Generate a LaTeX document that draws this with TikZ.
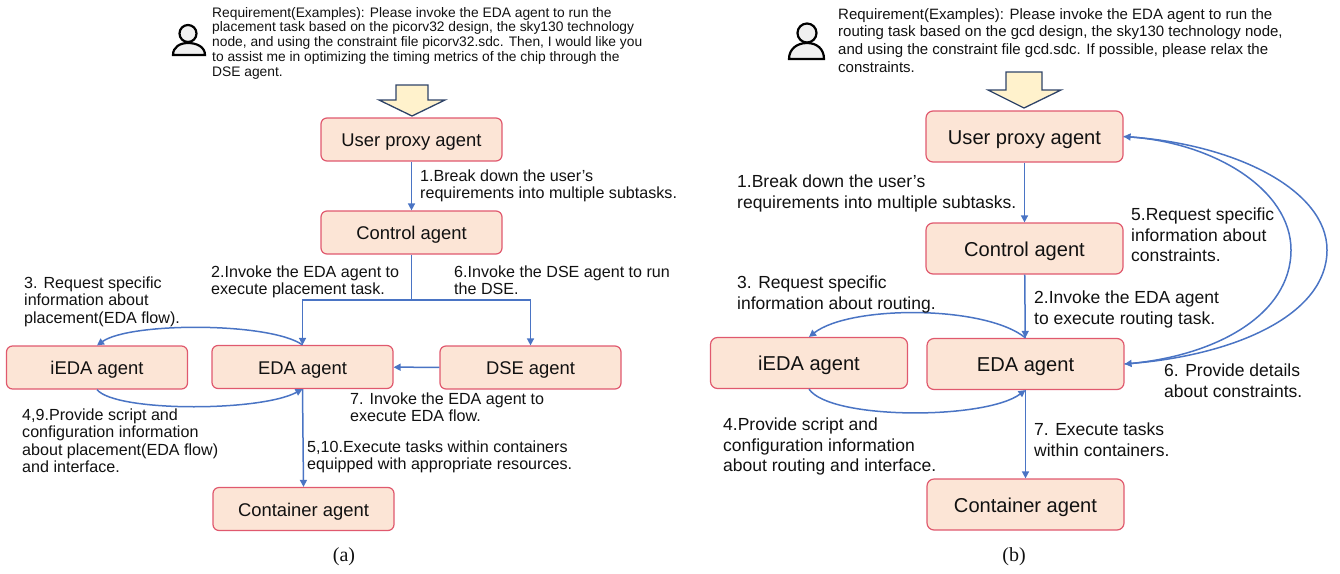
\documentclass[tikz,border=0pt]{standalone}
\usepackage{fontspec}
\setmainfont{Liberation Sans}
\newfontfamily\capfont{Liberation Serif}
\usetikzlibrary{arrows.meta}
\definecolor{boxfill}{HTML}{FCE5D6}
\definecolor{boxline}{HTML}{E0596E}
\definecolor{wire}{HTML}{4A74C4}
\definecolor{bigfill}{HTML}{FFF2CC}
\definecolor{bigline}{HTML}{2F4468}
\definecolor{txt}{HTML}{111111}
\tikzset{
 x=1pt,y=-1pt,
 agentL/.style={draw=boxline,fill=boxfill,line width=1.2pt,rounded corners=6pt,minimum width=181pt,minimum height=43pt,inner sep=0pt,font=\fontsize{18.4}{20}\selectfont,text=txt,text height=14pt,text depth=0pt},
 agentR/.style={agentL,rounded corners=7pt,minimum width=197pt,minimum height=51pt,font=\fontsize{20.1}{22}\selectfont,text height=15.2pt,text depth=0pt},
 wirestyle/.style={draw=wire,line width=1.5pt,-{Triangle[length=7pt,width=7pt]}},
 noteL/.style={anchor=north west,inner sep=0pt,align=left,text=txt,font=\fontsize{16.1}{17.1}\selectfont,yshift=-2pt},
 noteR/.style={noteL,font=\fontsize{17.5}{20.3}\selectfont,yshift=-1pt},
 reqL/.style={noteL,font=\fontsize{13.8}{14.7}\selectfont},
 reqR/.style={noteL,font=\fontsize{15}{17.7}\selectfont},
 bigarrow/.style={draw=bigline,fill=bigfill,line width=1.3pt,line join=miter},
 personbody/.style={draw=black,fill=black!6,line width=2.2pt},
}
\begin{document}
\begin{tikzpicture}
\useasboundingbox (0,0) rectangle (1340,573);
% ---------- (a)
\draw[personbody] (173,55) .. controls (173,47) and (180,43) .. (188,43) .. controls (197,43) and (205,47) .. (205,55) -- cycle;
\draw[personbody] (188,33.5) circle[radius=8.5];
\node[reqL] (reqa) at (212,5) {Requirement(Examples): Please invoke the EDA agent to run the\\placement task based on the picorv32 design, the sky130 technology\\node, and using the constraint file picorv32.sdc. Then, I would like you\\to assist me in optimizing the timing metrics of the chip through the\\DSE agent.};
\draw[bigarrow] (396,85) -- (428,85) -- (428,100) -- (445,100) -- (412,116) -- (379,100) -- (396,100) -- cycle;

\node[agentL] (ua) at (411.5,139.5) {User proxy agent};
\node[agentL] (ca) at (411.5,232.5) {Control agent};
\node[agentL] (ia) at (97,367.5) {iEDA agent};
\node[agentL] (ea) at (302.5,367) {EDA agent};
\node[agentL] (da) at (530.5,367.5) {DSE agent};
\node[agentL] (ka) at (303.5,509) {Container agent};
\coordinate (ja) at (411.5,300);

\draw[wirestyle] (ua) -- (ca);
\draw[wirestyle] (ca.south) -- (ja) -| (ea.north);
\draw[wirestyle] (ja) -| (da.north);
\draw[wirestyle] (da) -- (ea);
\draw[wirestyle] (ea.north) .. controls (270,322) and (130,322) .. (ia.north);
\draw[wirestyle] (ia.south) .. controls (115,412) and (260,412) .. (ea.south);
\draw[wirestyle] (ea.south) -- (ka.north);

\node[noteL] (n1a) at (420,168) {1.Break down the user's\\requirements into multiple subtasks.};
\node[noteL] (n2a) at (211,264) {2.Invoke the EDA agent to\\execute placement task.};
\node[noteL] (n6a) at (454,264) {6.Invoke the DSE agent to run\\the DSE.};
\node[noteL] (n3a) at (24,275) {3. Request specific\\information about\\placement(EDA flow).};
\node[noteL] (n7a) at (350,391) {7. Invoke the EDA agent to\\execute EDA flow.};
\node[noteL] (n4a) at (22,407) {4,9.Provide script and\\configuration information\\about placement(EDA flow)\\and interface.};
\node[noteL] (n5a) at (307,439) {5,10.Execute tasks within containers\\equipped with appropriate resources.};
\node[font=\capfont\fontsize{20}{22}\selectfont,text=txt,inner sep=0pt] (capa) at (344,557) {(a)};

% ---------- (b)
\draw[personbody] (789,59) .. controls (789,49) and (797,43) .. (807,43) .. controls (817,43) and (824,49) .. (824,59) -- cycle;
\draw[personbody] (807,33) circle[radius=9.5];
\node[reqR] (reqb) at (838,6) {Requirement(Examples): Please invoke the EDA agent to run the\\routing task based on the gcd design, the sky130 technology node,\\and using the constraint file gcd.sdc. If possible, please relax the\\constraints.};
\draw[bigarrow] (1006,72) -- (1042,72) -- (1042,90) -- (1061,90) -- (1024,108) -- (988,90) -- (1006,90) -- cycle;

\node[agentR] (ub) at (1024.5,136.5) {User proxy agent};
\node[agentR] (cb) at (1024.5,248.5) {Control agent};
\node[agentR] (ib) at (809,363) {iEDA agent};
\node[agentR] (eb) at (1025.5,364) {EDA agent};
\node[agentR] (kb) at (1025.5,504.5) {Container agent};
\coordinate (inner) at (1291,250);
\coordinate (outer) at (1327,250);

\draw[wirestyle] (ub) -- (cb);
\draw[wirestyle] (cb) -- (eb);
\draw[wirestyle] (eb.north) .. controls (985,305) and (850,305) .. (ib.north);
\draw[wirestyle] (ib.south) .. controls (830,420) and (985,420) .. (eb.south);
\draw[wirestyle] (eb.south) -- (kb.north);
\draw[wirestyle] (eb.east) .. controls (1215,357) and (1291,315) .. (inner) .. controls (1291,190) and (1215,143) .. (ub.east);
\draw[wirestyle] (ub.east) .. controls (1235,143) and (1327,190) .. (outer) .. controls (1327,315) and (1235,355) .. (eb.east);

\node[noteR] (n1b) at (737,172) {1.Break down the user's\\requirements into multiple subtasks.};
\node[noteR] (n5b) at (1131,205) {5.Request specific\\information about\\constraints.};
\node[noteR] (n3b) at (737,273) {3. Request specific\\information about routing.};
\node[noteR] (n2b) at (1034,288) {2.Invoke the EDA agent\\to execute routing task.};
\node[noteR] (n6b) at (1164,361) {6. Provide details\\about constraints.};
\node[noteR] (n4b) at (723,415) {4.Provide script and\\configuration information\\about routing and interface.};
\node[noteR] (n7b) at (1034,420) {7. Execute tasks\\within containers.};
\node[font=\capfont\fontsize{20}{22}\selectfont,text=txt,inner sep=0pt] (capb) at (1014,557) {(b)};
\end{tikzpicture}
\end{document}
